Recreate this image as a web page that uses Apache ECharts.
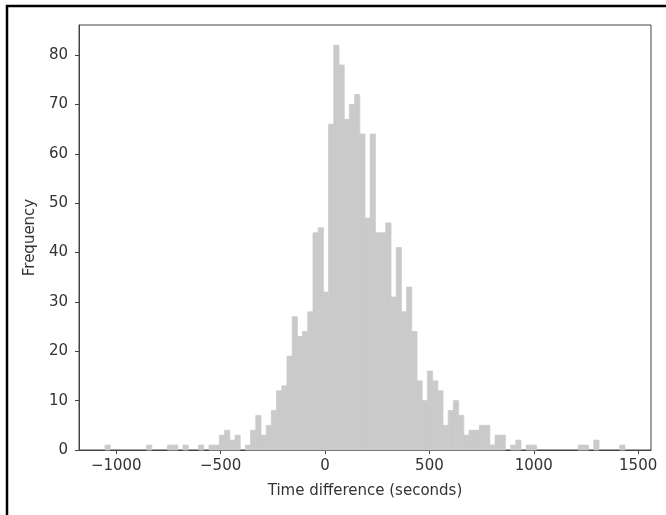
<!DOCTYPE html>
<html>
<head>
<meta charset="utf-8">
<script src="https://cdn.jsdelivr.net/npm/echarts@6/dist/echarts.min.js"></script>
<style>
  html, body { margin: 0; padding: 0; background: #fff; }
  #chart { width: 666px; height: 515px; }
</style>
</head>
<body>
<div id="chart"></div>
<script>
// histogram: 100 equal bins
const binStart = -1054;
const binWidth = 24.91;
const counts = [
  1, 0, 0, 0, 0, 0, 0, 0, 1, 0,
  0, 0, 1, 1, 0, 1, 0, 0, 1, 0,
  1, 1, 3, 4, 2, 3, 0, 1, 4, 7,
  3, 5, 8, 12, 13, 19, 27, 23, 24, 28,
  44, 45, 32, 66, 82, 78, 67, 70, 72, 64,
  47, 64, 44, 44, 46, 31, 41, 28, 33, 24,
  14, 10, 16, 14, 12, 5, 8, 10, 7, 3,
  4, 4, 5, 5, 1, 3, 3, 0, 1, 2,
  0, 1, 1, 0, 0, 0, 0, 0, 0, 0,
  0, 1, 1, 0, 2, 0, 0, 0, 0, 1
];
const xTicks = [-1000, -500, 0, 500, 1000, 1500];
const yTicks = [0, 10, 20, 30, 40, 50, 60, 70, 80];

const binData = counts.map((c, i) => [binStart + i * binWidth, binStart + (i + 1) * binWidth, c]);

const chart = echarts.init(document.getElementById('chart'));
const textColor = '#333';
const axisColor = '#444';
const barColor = '#cacaca';

const option = {
  animation: false,
  grid: {
    left: 79, right: 15, top: 25, bottom: 65,
    show: true, borderColor: axisColor, borderWidth: 1
  },
  xAxis: {
    type: 'value',
    min: -1178.5,
    max: 1561.5,
    name: 'Time difference (seconds)',
    nameLocation: 'middle',
    nameGap: 34,
    nameTextStyle: { color: textColor, fontSize: 15, fontFamily: 'DejaVu Sans' },
    splitLine: { show: false },
    axisLine: { show: true, onZero: false, lineStyle: { color: axisColor, width: 1 } },
    axisTick: { show: true, length: 4, customValues: xTicks, lineStyle: { color: axisColor } },
    axisLabel: {
      customValues: xTicks, margin: 9,
      color: textColor, fontSize: 15, fontFamily: 'DejaVu Sans',
      formatter: v => (v < 0 ? '\u2212' + Math.abs(v) : String(v))
    }
  },
  yAxis: {
    type: 'value',
    min: 0,
    max: 86.1,
    name: 'Frequency',
    nameLocation: 'middle',
    nameGap: 37,
    nameTextStyle: { color: textColor, fontSize: 15, fontFamily: 'DejaVu Sans' },
    splitLine: { show: false },
    axisLine: { show: true, onZero: false, lineStyle: { color: axisColor, width: 1 } },
    axisTick: { show: true, length: 4, customValues: yTicks, lineStyle: { color: axisColor } },
    axisLabel: {
      customValues: yTicks, margin: 11,
      color: textColor, fontSize: 15, fontFamily: 'DejaVu Sans'
    }
  },
  graphic: [{
    type: 'polyline',
    shape: { points: [[7, 515], [7, 6], [666, 6]] },
    style: { stroke: '#000', lineWidth: 2.5, fill: null }
  }],
  series: [{
    type: 'custom',
    data: binData,
    encode: { x: [0, 1], y: 2 },
    renderItem: function (params, api) {
      if (!api.value(2)) return null;
      const p0 = api.coord([api.value(0), api.value(2)]);
      const p1 = api.coord([api.value(1), 0]);
      return {
        type: 'rect',
        shape: { x: p0[0], y: p0[1], width: p1[0] - p0[0], height: p1[1] - p0[1] },
        style: { fill: barColor, stroke: barColor, lineWidth: 0.8 }
      };
    }
  }]
};

chart.setOption(option);
window.addEventListener('resize', () => chart.resize());
</script>
</body>
</html>
